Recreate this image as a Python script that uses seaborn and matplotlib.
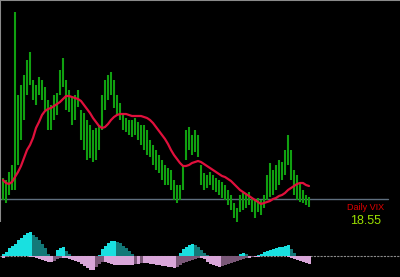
import numpy as np
import pandas as pd
import matplotlib
matplotlib.use("Agg")
import matplotlib.pyplot as plt
import seaborn as sns

# ---------------- data ----------------
vix_high = [20.7, 20.5, 21.3, 22.0, 37.3, 29.0, 30.0, 31.0, 32.5, 33.3,
            30.5, 30.0, 30.8, 30.5, 29.8, 28.5, 28.0, 29.0, 29.2, 31.5,
            32.7, 30.5, 29.5, 28.8, 29.0, 29.5, 27.5, 27.2, 26.5, 26.0,
            25.5, 25.7, 26.0, 29.0, 30.5, 31.0, 31.3, 30.5, 29.0, 28.2,
            27.0, 26.7, 26.5, 26.5, 26.7, 26.3, 26.0, 26.0, 25.5, 24.5,
            24.0, 23.5, 23.0, 22.5, 22.0, 21.7, 21.5, 20.5, 20.0, 20.0,
            22.0, 25.5, 25.8, 25.0, 25.5, 25.0, 22.0, 21.2, 21.0, 21.3,
            21.0, 20.7, 20.5, 20.3, 20.0, 19.5, 19.0, 18.2, 17.7, 19.0,
            19.2, 19.0, 19.3, 18.7, 18.5, 18.7, 18.5, 19.0, 21.0, 22.2,
            21.5, 22.0, 22.5, 22.3, 23.5, 25.0, 23.5, 21.5, 21.0, 20.3,
            19.5, 19.0, 18.8]
vix_low = [18.5, 18.2, 19.0, 19.5, 19.5, 22.0, 24.5, 26.5, 29.0, 30.0,
           28.5, 28.0, 29.0, 28.5, 27.5, 25.5, 25.5, 26.5, 27.0, 29.0,
           29.8, 27.5, 27.3, 26.0, 26.5, 27.8, 24.5, 23.5, 22.5, 22.7,
           22.3, 22.5, 23.5, 25.5, 27.5, 28.5, 29.0, 27.7, 27.0, 26.5,
           25.5, 25.3, 25.0, 24.8, 25.0, 24.5, 24.0, 23.5, 23.0, 22.8,
           22.0, 21.5, 21.2, 20.5, 20.0, 20.0, 19.5, 18.5, 18.2, 18.5,
           19.5, 22.5, 23.5, 23.0, 23.3, 22.8, 20.0, 19.5, 19.7, 20.0,
           19.5, 19.3, 19.0, 18.7, 18.5, 18.0, 17.5, 16.7, 16.2, 17.3,
           17.5, 17.7, 18.0, 17.3, 16.7, 17.3, 17.0, 17.7, 18.5, 18.8,
           19.0, 19.5, 20.0, 20.5, 21.0, 22.0, 20.5, 19.0, 18.5, 18.3,
           18.2, 18.0, 17.8]
vix_ma = [20.5, 20.2, 20.1, 20.3, 20.8, 21.3, 21.9, 22.7, 23.5, 24.0,
          24.7, 25.7, 26.3, 27.0, 27.4, 27.6, 27.7, 27.9, 28.1, 28.3,
          28.6, 28.9, 28.9, 28.8, 28.7, 28.6, 28.4, 28.0, 27.6, 27.2,
          26.7, 26.3, 25.9, 25.7, 25.8, 26.1, 26.5, 26.8, 27.0, 27.1,
          27.1, 27.1, 27.0, 26.9, 26.9, 26.9, 26.9, 26.8, 26.7, 26.5,
          26.2, 25.8, 25.4, 25.0, 24.6, 24.1, 23.5, 23.0, 22.6, 22.2,
          21.9, 21.9, 22.0, 22.2, 22.3, 22.4, 22.3, 22.1, 21.9, 21.7,
          21.5, 21.3, 21.1, 20.9, 20.8, 20.6, 20.4, 20.1, 19.8, 19.5,
          19.3, 19.1, 18.9, 18.7, 18.5, 18.3, 18.1, 18.2, 18.3, 18.4,
          18.6, 18.7, 18.9, 19.0, 19.2, 19.5, 19.7, 19.9, 20.1, 20.2,
          20.2, 20.0, 19.9]
osc_pos = [2, 4, 8, 10, 12, 16, 18, 21, 23, 24,
           21, 19, 16, 12, 8, 2, 0, 0, 6, 8,
           9, 5, 2, 0, 0, 0, 0, 0, 0, 0,
           0, 0, 1, 7, 10, 13, 15, 15, 14, 13,
           10, 8, 5, 2, 0, 0, 0, 0, 0, 0,
           0, 0, 0, 0, 0, 0, 0, 0, 0, 3,
           7, 9, 11, 12, 11, 9, 6, 3, 1, 0,
           0, 0, 0, 0, 0, 0, 0, 0, 0, 2,
           3, 2, 0, 0, 0, 1, 2, 4, 5, 6,
           7, 8, 9, 9, 10, 11, 7, 3, 0, 0,
           0, 0, 0]
osc_neg = [-2, -1, 0, 0, 0, 0, 0, 0, 0, -1,
           -1, -2, -3, -4, -5, -6, -6, -5, -3, -2,
           -2, -2, -3, -4, -5, -6, -8, -10, -12, -14,
           -14, -11, -8, -6, -6, -7, -8, -9, -9, -9,
           -9, -9, -9, -9, -8, -8, -7, -7, -7, -8,
           -8, -9, -9, -10, -10, -11, -11, -12, -11, -9,
           -7, -6, -5, -4, -3, -2, -2, -3, -6, -8,
           -9, -10, -11, -10, -9, -8, -7, -6, -5, -4,
           -3, -2, -2, -1, -1, -1, 0, 0, 0, 0,
           0, 0, 0, 0, 0, -1, -2, -3, -4, -5,
           -6, -7, -8]
last_value = 18.55
title_label = "Daily VIX"
value_label = "18.55"

# ---------------- styling ----------------
sns.set_theme(style="dark", rc={
    "figure.facecolor": "black",
    "axes.facecolor": "black",
    "savefig.facecolor": "black",
})
plt.rcParams["font.family"] = ["Liberation Sans", "DejaVu Sans"]

df = pd.DataFrame({
    "bar": np.arange(len(vix_high)),
    "high": vix_high,
    "low": vix_low,
    "ma": vix_ma,
    "pos": osc_pos,
    "neg": osc_neg,
})

W, H = 400, 277
fig = plt.figure(figsize=(W / 100, H / 100), dpi=100)
main_h = 222
ax = fig.add_axes([0, (H - main_h) / H, 1, main_h / H])
sub = fig.add_axes([0, 0, 1, (H - main_h) / H])

xlim = (-1.0, (W - 3) / 3.0)
for a in (ax, sub):
    a.set_facecolor("black")
    a.set_xlim(*xlim)
    a.set_xticks([])
    a.set_yticks([])
    a.grid(False)
    for s in a.spines.values():
        s.set_visible(False)

# main panel
ax.set_ylim(38.5 - main_h / 10.0, 38.5)
for side in ("top", "left"):
    ax.spines[side].set_visible(True)
    ax.spines[side].set_color("#8a8a8a")
    ax.spines[side].set_linewidth(1.5)

ax.axhline(last_value, xmin=0, xmax=388 / W, color="#5e6e7e", lw=1.0, zorder=1)
ax.vlines(df["bar"], df["low"], df["high"], color="#10a010", lw=1.5, zorder=2)
sns.lineplot(data=df, x="bar", y="ma", ax=ax, color="#e0103c", lw=1.6,
             legend=False, zorder=3)
ax.set_xlabel("")
ax.set_ylabel("")

# sub panel (oscillator)
sub.set_ylim(-21, 34)
sub.axhline(0, color="#8a8a8a", lw=0.8, ls=(0, (2, 1)), zorder=0)
pos = np.array(osc_pos, dtype=float)
neg = np.array(osc_neg, dtype=float)
pos_dark = np.r_[False, np.abs(pos[1:]) < np.abs(pos[:-1])]
neg_dark = np.r_[False, np.abs(neg[1:]) < np.abs(neg[:-1])]
pos_col = np.where(pos_dark, "#137878", "#19e0e0")
neg_col = np.where(neg_dark, "#7a5878", "#d9a6d9")
sub.bar(df["bar"], pos, width=1.0, color=pos_col, linewidth=0, zorder=2)
sub.bar(df["bar"], neg, width=1.0, color=neg_col, linewidth=0, zorder=2)

# labels
fig.text(366 / W, 1 - 207 / H, title_label, color="#e00000", fontsize=6.5,
         ha="center", va="center")
fig.text(366 / W, 1 - 221 / H, value_label, color="#9be000", fontsize=9,
         ha="center", va="center")

fig.savefig("out.png", dpi=100, facecolor="black")
